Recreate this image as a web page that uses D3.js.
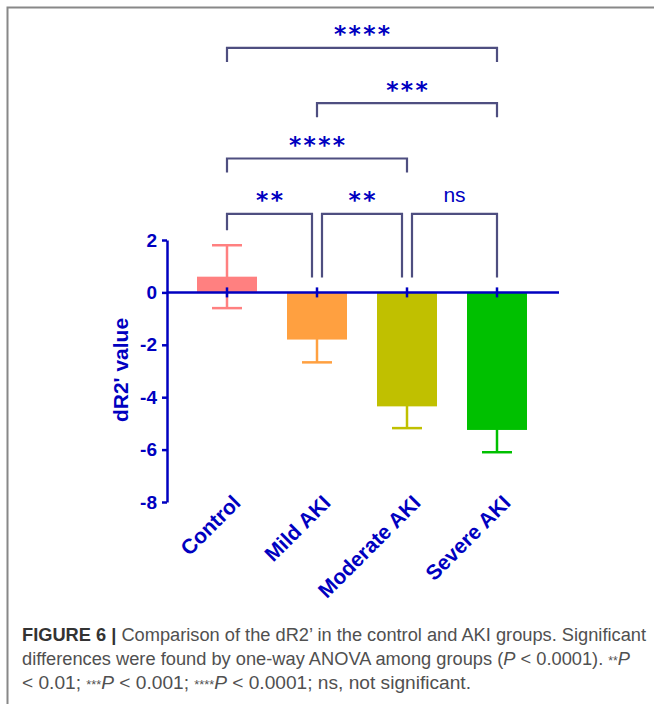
<!DOCTYPE html>
<html>
<head>
<meta charset="utf-8">
<script src="https://cdn.jsdelivr.net/npm/d3@7"></script>
<style>
  body { margin: 0; background: #fff; }
  svg { display: block; }
</style>
</head>
<body>
<svg width="654" height="704"></svg>
<script>
// Data
const groups = ["Control", "Mild AKI", "Moderate AKI", "Severe AKI"];
const means = [0.6, -1.8, -4.35, -5.25];
const sds = [1.2, 0.87, 0.83, 0.85];
const barColors = ["#ff8080", "#ffa040", "#c0c000", "#00c000"];
const yTicks = [-8, -6, -4, -2, 0, 2];

// significance brackets: from, to, label, level
const compFrom = ["Control", "Mild AKI", "Moderate AKI", "Control", "Mild AKI", "Control"];
const compTo = ["Mild AKI", "Moderate AKI", "Severe AKI", "Moderate AKI", "Severe AKI", "Severe AKI"];
const compLabel = ["**", "**", "ns", "****", "***", "****"];
const compLevel = [0, 0, 0, 1, 2, 3];

const blue = "#0000c0";
const bracketColor = "#4e4e80";

var svg = d3.select("svg");

// frame
svg.append("path")
    .attr("d", "M7.5,704V7.5H654")
    .attr("fill", "none")
    .attr("stroke", "#888")
    .attr("stroke-width", 2);

// scales
var x = d3.scaleBand()
    .domain(groups)
    .range([167, 557])
    .paddingInner(1 / 3)
    .paddingOuter(1 / 3);

var y = d3.scaleLinear()
    .domain([-8, 2])
    .range([502, 240]);

var cx = function (g) { return x(g) + x.bandwidth() / 2; };

// bars
svg.append("g")
    .selectAll("rect")
    .data(groups)
    .enter().append("rect")
        .attr("x", function (d) { return x(d); })
        .attr("width", x.bandwidth())
        .attr("y", function (d, i) { return y(Math.max(0, means[i])); })
        .attr("height", function (d, i) { return Math.abs(y(means[i]) - y(0)); })
        .attr("fill", function (d, i) { return barColors[i]; });

// error bars
var eb = svg.append("g")
    .selectAll("g")
    .data(groups)
    .enter().append("g")
        .attr("stroke", function (d, i) { return barColors[i]; })
        .attr("stroke-width", 2.5);

eb.append("line")
    .attr("x1", cx).attr("x2", cx)
    .attr("y1", function (d, i) { return y(means[i] - sds[i]); })
    .attr("y2", function (d, i) { return y(means[i] + sds[i]); });
eb.append("line")
    .attr("x1", function (d) { return cx(d) - 15; })
    .attr("x2", function (d) { return cx(d) + 15; })
    .attr("y1", function (d, i) { return y(means[i] + sds[i]); })
    .attr("y2", function (d, i) { return y(means[i] + sds[i]); });
eb.append("line")
    .attr("x1", function (d) { return cx(d) - 15; })
    .attr("x2", function (d) { return cx(d) + 15; })
    .attr("y1", function (d, i) { return y(means[i] - sds[i]); })
    .attr("y2", function (d, i) { return y(means[i] - sds[i]); });

// y axis
var yAxis = svg.append("g")
    .attr("transform", "translate(167,0)")
    .call(d3.axisLeft(y)
        .tickValues(yTicks)
        .tickSize(5)
        .tickSizeOuter(0)
        .tickPadding(5)
        .tickFormat(function (d) { return String(d); }));
yAxis.select(".domain").attr("stroke", blue).attr("stroke-width", 2.5);
yAxis.selectAll(".tick line").attr("stroke", blue).attr("stroke-width", 2.5);
yAxis.selectAll(".tick text")
    .attr("fill", blue)
    .attr("font-family", "Liberation Sans, Arial, sans-serif")
    .attr("font-weight", "bold")
    .attr("font-size", 19);

// zero line with ticks at categories
svg.append("line")
    .attr("x1", 167).attr("x2", 559)
    .attr("y1", y(0)).attr("y2", y(0))
    .attr("stroke", blue)
    .attr("stroke-width", 2.5);
svg.append("g")
    .selectAll("line")
    .data(groups)
    .enter().append("line")
        .attr("x1", cx).attr("x2", cx)
        .attr("y1", y(0) - 5).attr("y2", y(0) + 5)
        .attr("stroke", blue)
        .attr("stroke-width", 2.5);

// y title
svg.append("text")
    .attr("transform", "translate(128,370) rotate(-90)")
    .attr("text-anchor", "middle")
    .attr("fill", blue)
    .attr("font-family", "Liberation Sans, Arial, sans-serif")
    .attr("font-weight", "bold")
    .attr("font-size", 21)
    .text("dR2' value");

// x labels
svg.append("g")
    .selectAll("text")
    .data(groups)
    .enter().append("text")
        .attr("transform", function (d) { return "translate(" + (cx(d) + 15) + ",504) rotate(-45)"; })
        .attr("text-anchor", "end")
        .attr("fill", blue)
        .attr("font-family", "Liberation Sans, Arial, sans-serif")
        .attr("font-weight", "bold")
        .attr("font-size", 21)
        .text(function (d) { return d; });

// brackets
var levelStep = 55.3;
var base = y(3);
compLabel.forEach(function (lab, i) {
    var lv = compLevel[i];
    var a = compFrom[i], b = compTo[i];
    var ia = groups.indexOf(a), ib = groups.indexOf(b);
    // pull ends in where two brackets on one level share a group
    var shareA = compLevel.some(function (l, j) { return j !== i && l === lv && compTo[j] === a; });
    var shareB = compLevel.some(function (l, j) { return j !== i && l === lv && compFrom[j] === b; });
    var x1 = cx(a) + (shareA ? 5 : 0);
    var x2 = cx(b) - (shareB ? 5 : 0);
    var by = base - lv * levelStep;
    var leg1, leg2;
    if (lv === 0) {
        leg1 = y(Math.max(0, means[ia] + sds[ia])) - 15;
        leg2 = y(Math.max(0, means[ib] + sds[ib])) - 15;
    } else {
        leg1 = by + 14;
        leg2 = by + 14;
    }
    svg.append("path")
        .attr("d", "M" + x1 + "," + leg1 + "V" + by + "H" + x2 + "V" + leg2)
        .attr("fill", "none")
        .attr("stroke", bracketColor)
        .attr("stroke-width", 2.2);
    var mid = (x1 + x2) / 2;
    if (lab === "ns") {
        svg.append("text")
            .attr("x", mid).attr("y", by - 11.5)
            .attr("text-anchor", "middle")
            .attr("fill", blue)
            .attr("font-family", "Liberation Sans, Arial, sans-serif")
            .attr("font-size", 21)
            .text(lab);
    } else {
        svg.append("text")
            .attr("x", mid).attr("y", by - 5.5)
            .attr("text-anchor", "middle")
            .attr("fill", blue)
            .attr("font-family", "DejaVu Sans, sans-serif")
            .attr("font-weight", "bold")
            .attr("font-size", 23.5)
            .attr("textLength", lab.length * 14.5 - 2)
            .attr("lengthAdjust", "spacing")
            .text(lab);
    }
});

// caption
var cap = svg.append("g")
    .attr("font-family", "Liberation Sans, Arial, sans-serif")
    .attr("font-size", 18)
    .attr("fill", "#505050");

var l1 = cap.append("text").attr("x", 22).attr("y", 641)
    .attr("textLength", 624).attr("lengthAdjust", "spacingAndGlyphs");
l1.append("tspan").attr("font-weight", "bold").attr("fill", "#333").text("FIGURE 6 |");
l1.append("tspan").text(" Comparison of the dR2\u2019 in the control and AKI groups. Significant");

var l2 = cap.append("text").attr("x", 22).attr("y", 665)
    .attr("textLength", 608).attr("lengthAdjust", "spacingAndGlyphs");
l2.append("tspan").text("differences were found by one-way ANOVA among groups (");
l2.append("tspan").attr("font-style", "italic").text("P");
l2.append("tspan").text(" < 0.0001). ");
l2.append("tspan").attr("font-size", 12).text("**");
l2.append("tspan").attr("font-style", "italic").text("P");

var l3 = cap.append("text").attr("x", 22).attr("y", 689)
    .attr("textLength", 449).attr("lengthAdjust", "spacingAndGlyphs");
l3.append("tspan").text("< 0.01; ");
l3.append("tspan").attr("font-size", 12).text("***");
l3.append("tspan").attr("font-style", "italic").text("P");
l3.append("tspan").text(" < 0.001; ");
l3.append("tspan").attr("font-size", 12).text("****");
l3.append("tspan").attr("font-style", "italic").text("P");
l3.append("tspan").text(" < 0.0001; ns, not significant.");
</script>
</body>
</html>
